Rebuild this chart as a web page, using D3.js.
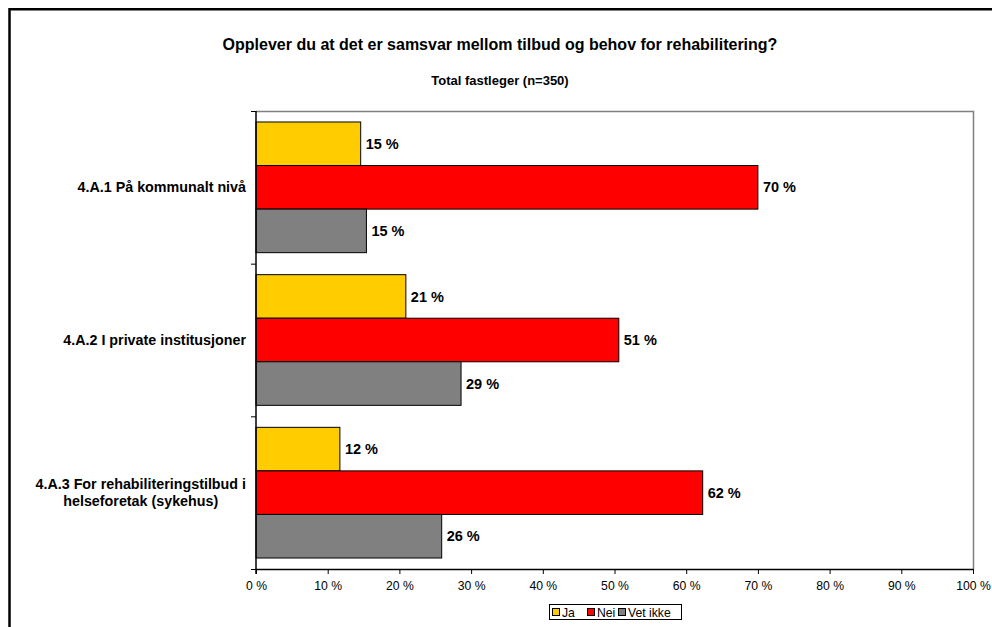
<!DOCTYPE html>
<html>
<head>
<meta charset="utf-8">
<script src="https://cdn.jsdelivr.net/npm/d3@7"></script>
<style>
  html, body { margin: 0; padding: 0; background: #fff; }
  svg { display: block; font-family: "Liberation Sans", Arial, sans-serif; }
</style>
</head>
<body>
<svg id="chart" width="992" height="627"></svg>
<script>
// Survey categories (one band each), wrapped into lines for the axis labels
const categories = [
  ["4.A.1 På kommunalt nivå"],
  ["4.A.2 I private institusjoner"],
  ["4.A.3 For rehabiliteringstilbud i", "helseforetak (sykehus)"]
];
const seriesNames = ["Ja", "Nei", "Vet ikke"];
const seriesColors = ["#FFCC00", "#FF0000", "#808080"];
// Share of respondents per category, in percent
const jaValues      = [14.6, 20.9, 11.7];
const neiValues     = [70.0, 50.6, 62.3];
const vetIkkeValues = [15.4, 28.6, 25.9];
const xTicks = [0, 10, 20, 30, 40, 50, 60, 70, 80, 90, 100];

const titleText = "Opplever du at det er samsvar mellom tilbud og behov for rehabilitering?";
const subtitleText = "Total fastleger (n=350)";

const svg = d3.select("#chart");
const plot = { left: 256, right: 973, top: 111, bottom: 569 };

// Outer chart frame (runs past the right and bottom edges)
svg.append("rect")
  .attr("x", 9.5).attr("y", 9.25)
  .attr("width", 1200).attr("height", 1200)
  .attr("fill", "none").attr("stroke", "#000").attr("stroke-width", 2.5);

svg.append("text")
  .attr("x", 500).attr("y", 50)
  .attr("text-anchor", "middle")
  .attr("font-size", 16).attr("font-weight", "bold")
  .text(titleText);

svg.append("text")
  .attr("x", 500).attr("y", 85)
  .attr("text-anchor", "middle")
  .attr("font-size", 13).attr("font-weight", "bold")
  .text(subtitleText);

const x = d3.scaleLinear().domain([0, 100]).range([plot.left, plot.right]);
const y = d3.scaleBand().domain(d3.range(categories.length))
  .range([plot.top, plot.bottom]).padding(0);
const groupPad = 0.072; // fraction of each band left empty above and below its bars
const inner = d3.scaleBand().domain(d3.range(seriesNames.length))
  .range([y.bandwidth() * groupPad, y.bandwidth() * (1 - groupPad)]).padding(0);

// Plot-area border (top and right)
svg.append("path")
  .attr("d", `M${plot.left},${plot.top + 0.5}H${plot.right + 0.5}V${plot.bottom}`)
  .attr("fill", "none").attr("stroke", "#808080").attr("stroke-width", 1.5);

const rows = categories.map((c, i) => [jaValues[i], neiValues[i], vetIkkeValues[i]]);
const fmt = v => d3.format(".0f")(v) + " %";

const groups = svg.append("g").selectAll("g")
  .data(rows).join("g")
  .attr("transform", (d, i) => `translate(0,${y(i)})`);

groups.selectAll("rect")
  .data(d => d.map((v, s) => ({ v, s })))
  .join("rect")
  .attr("x", x(0))
  .attr("y", d => inner(d.s))
  .attr("width", d => x(d.v) - x(0))
  .attr("height", inner.bandwidth())
  .attr("fill", d => seriesColors[d.s])
  .attr("stroke", "#000").attr("stroke-width", 1);

groups.selectAll("text.val")
  .data(d => d.map((v, s) => ({ v, s })))
  .join("text")
  .attr("class", "val")
  .attr("x", d => x(d.v) + 5)
  .attr("y", d => inner(d.s) + inner.bandwidth() / 2)
  .attr("dy", "0.35em")
  .attr("font-size", 14.5).attr("font-weight", "bold")
  .text(d => fmt(d.v));

// X axis
const xAxis = svg.append("g")
  .attr("transform", `translate(0,${plot.bottom})`)
  .call(d3.axisBottom(x).tickValues(xTicks).tickSize(5).tickPadding(7)
    .tickFormat(d => d + " %"));
xAxis.select(".domain").attr("stroke", "#000").attr("stroke-width", 1.5)
  .attr("d", `M${plot.left},0.5H${plot.right + 0.5}`);
xAxis.selectAll(".tick line").attr("stroke", "#000");
xAxis.selectAll(".tick text")
  .attr("font-size", 12.2).attr("font-family", "Liberation Sans, Arial, sans-serif")
  .attr("fill", "#000");

// Y axis: ticks at the band boundaries
const yAxis = svg.append("g");
yAxis.append("line")
  .attr("x1", plot.left).attr("x2", plot.left)
  .attr("y1", plot.top).attr("y2", plot.bottom + 5)
  .attr("stroke", "#000").attr("stroke-width", 1.5);
yAxis.selectAll("line.tk")
  .data(d3.range(categories.length + 1))
  .join("line").attr("class", "tk")
  .attr("x1", plot.left - 5).attr("x2", plot.left)
  .attr("y1", i => i < categories.length ? y(i) + 0.5 : plot.bottom + 0.5)
  .attr("y2", i => i < categories.length ? y(i) + 0.5 : plot.bottom + 0.5)
  .attr("stroke", "#000");

const catFont = 14.3;
yAxis.selectAll("text.cat")
  .data(categories)
  .join("text").attr("class", "cat")
  .attr("font-size", catFont).attr("font-weight", "bold")
  .attr("text-anchor", "middle")
  .each(function (lines, i) {
    const t = d3.select(this);
    const cy = y(i) + y.bandwidth() / 2;
    const lh = 17.5;
    // widest line is right-aligned to the axis; other lines centre on it
    const widths = lines.map(l => {
      const tmp = svg.append("text").attr("font-size", catFont).attr("font-weight", "bold").text(l);
      const w = tmp.node().getComputedTextLength(); tmp.remove(); return w;
    });
    const maxW = d3.max(widths);
    const cx = plot.left - 10 - maxW / 2;
    lines.forEach((l, k) => {
      t.append("tspan")
        .attr("x", cx)
        .attr("y", cy + (k - (lines.length - 1) / 2) * lh)
        .attr("dy", "0.35em")
        .text(l);
    });
  });

// Legend
const legend = svg.append("g").attr("transform", "translate(549,604)");
legend.append("rect").attr("x", 0.5).attr("y", 0.5).attr("width", 132).attr("height", 15)
  .attr("fill", "#fff").attr("stroke", "#000").attr("stroke-width", 1);
const legX = [3.5, 38.5, 69.5];
seriesNames.forEach((n, s) => {
  legend.append("rect")
    .attr("x", legX[s]).attr("y", 4.5).attr("width", 7).attr("height", 7)
    .attr("fill", seriesColors[s]).attr("stroke", "#000");
  legend.append("text")
    .attr("x", legX[s] + 9.5).attr("y", 8.5).attr("dy", "0.35em")
    .attr("font-size", 12.2).text(n);
});
</script>
</body>
</html>
